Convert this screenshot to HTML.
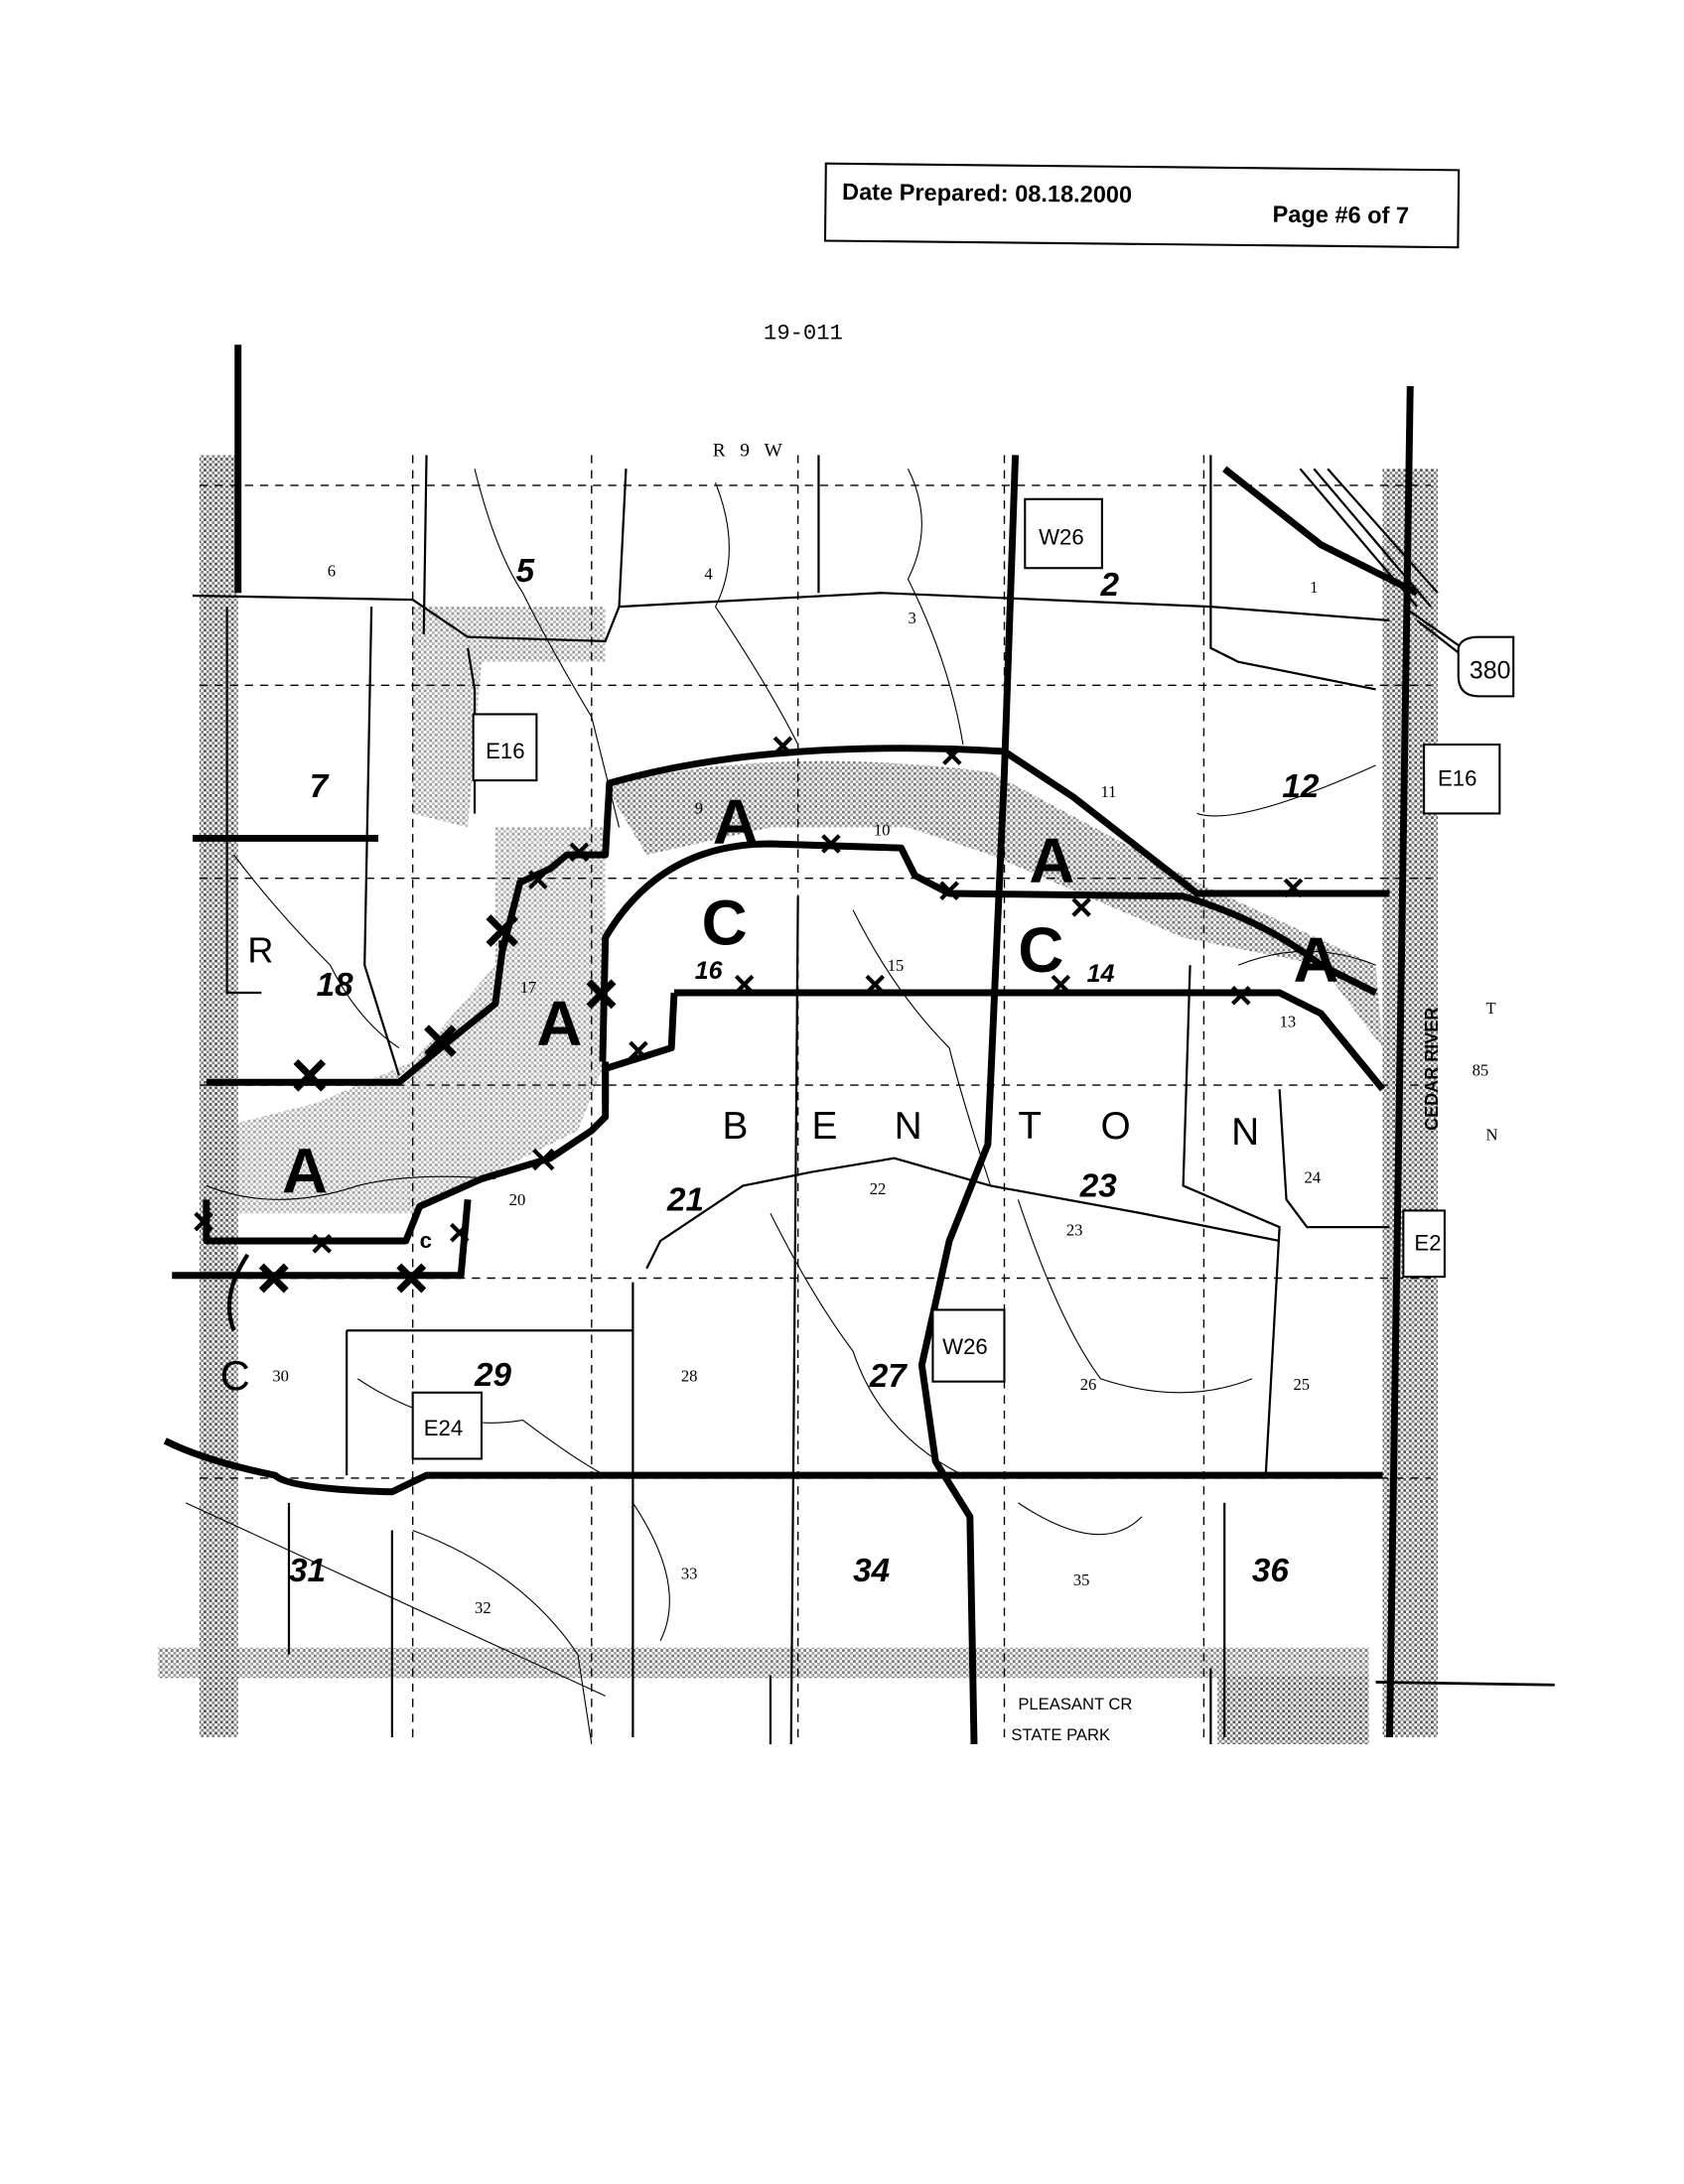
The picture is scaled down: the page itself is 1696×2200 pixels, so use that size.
<!DOCTYPE html>
<html><head><meta charset="utf-8"><style>
html,body{margin:0;padding:0;background:#fff;}
svg{display:block;}
</style></head><body>
<svg width="1696" height="2200" viewBox="0 0 1224 1584" preserveAspectRatio="none" xmlns="http://www.w3.org/2000/svg" font-family="Liberation Sans, sans-serif">
<defs>
<pattern id="dots" width="4" height="4" patternUnits="userSpaceOnUse">
<rect width="4" height="4" fill="#fff"/><rect width="2" height="2" fill="#555"/><rect x="2" y="2" width="2" height="2" fill="#888"/>
</pattern>
<clipPath id="c1"><rect x="1035" y="540" width="55" height="50"/></clipPath>
<clipPath id="c2"><rect x="1020" y="878" width="30" height="48"/></clipPath>
</defs>
<rect width="1224" height="1584" fill="#fff"/>
<g transform="rotate(0.6 830 150)">
<rect x="600" y="121" width="460" height="56" fill="#fff" stroke="#000" stroke-width="1.5"/>
<text x="612" y="147" font-size="17" font-weight="bold">Date Prepared: 08.18.2000</text>
<text x="925" y="160" font-size="17" font-weight="bold">Page #6 of 7</text>
</g>
<text x="555" y="246" font-family="Liberation Mono, monospace" font-size="16">19-011</text>
<text x="518" y="331" font-family="Liberation Serif, serif" font-size="14">R&#160;&#160;&#160;9&#160;&#160;&#160;W</text>

<rect x="145" y="330" width="28" height="930" fill="url(#dots)"/>
<rect x="1005" y="340" width="40" height="920" fill="url(#dots)"/>
<rect x="115" y="1195" width="880" height="22" fill="url(#dots)" opacity="0.8"/>
<rect x="885" y="1215" width="110" height="50" fill="url(#dots)"/>
<path d="M440 570 Q560 540 720 560 L870 640 L1000 700 L1005 760 L960 700 L860 680 L720 620 L660 600 L560 600 L470 620 Z" fill="url(#dots)" opacity="0.8"/>
<path d="M360 600 L440 600 L440 770 L420 820 L360 850 L300 880 L160 880 L150 820 L230 800 L300 770 L360 700 Z" fill="url(#dots)" opacity="0.55"/>
<path d="M300 440 L440 440 L440 480 L350 480 L340 600 L300 590 Z" fill="url(#dots)" opacity="0.6"/>

<g stroke="#000" stroke-width="1" stroke-dasharray="6,5" fill="none">
<line x1="145" y1="352" x2="1040" y2="352"/>
<line x1="145" y1="497" x2="1040" y2="497"/>
<line x1="145" y1="637" x2="1040" y2="637"/>
<line x1="145" y1="787" x2="1040" y2="787"/>
<line x1="145" y1="927" x2="1040" y2="927"/>
<line x1="145" y1="1072" x2="1040" y2="1072"/>
<line x1="300" y1="330" x2="300" y2="1260"/>
<line x1="430" y1="330" x2="430" y2="1260"/>
<line x1="580" y1="330" x2="580" y2="1260"/>
<line x1="730" y1="330" x2="730" y2="1260"/>
<line x1="875" y1="330" x2="875" y2="1260"/>
</g>
<g stroke="#000" stroke-width="1.6" fill="none">
<path d="M140 432 L300 435 L340 462 L440 465 L450 440 L640 430 L880 440 L1010 450"/>
<path d="M880 330 L880 470 L900 480 L1000 500"/>
<path d="M310 330 L308 460"/>
<path d="M455 340 L450 440"/>
<path d="M595 330 L595 430"/>
<path d="M165 440 L165 720 L190 720"/>
<path d="M270 440 L265 700 L290 780"/>
<path d="M340 470 L345 500 L345 590"/>
<path d="M580 650 L575 1265"/>
<path d="M865 700 L860 860 L930 890 L920 1070"/>
<path d="M930 790 L935 870 L950 890 L1010 890"/>
<path d="M470 920 L480 900 L540 860 L590 850 L650 840 L720 860 L830 880 L930 900"/>
<path d="M460 930 L460 1260"/>
<path d="M252 965 L460 965"/>
<path d="M252 965 L252 1070"/>
<path d="M285 1110 L285 1260"/>
<path d="M210 1090 L210 1200"/>
<path d="M890 1090 L890 1260"/>
<path d="M560 1215 L560 1265"/>
<path d="M880 1210 L880 1265"/>
</g>
<g stroke="#000" stroke-width="0.8" fill="none">
<path d="M345 340 Q360 400 380 430 Q400 470 430 520 L450 600"/>
<path d="M520 350 Q540 400 520 440 Q560 500 580 540"/>
<path d="M660 340 Q680 380 660 420 Q690 480 700 540"/>
<path d="M170 620 Q200 660 240 700 Q260 740 290 760"/>
<path d="M620 660 Q650 720 690 760 Q700 800 720 860"/>
<path d="M740 870 Q770 960 800 1000 Q860 1020 910 1000"/>
<path d="M560 880 Q590 940 620 980 Q640 1040 700 1070"/>
<path d="M260 1000 Q320 1040 380 1030 Q420 1060 440 1070"/>
<path d="M300 1110 Q380 1140 420 1200 L430 1265"/>
<path d="M460 1090 Q500 1150 480 1190"/>
<path d="M740 1090 Q800 1130 830 1100"/>
<path d="M870 590 Q900 600 1000 555"/>
<path d="M135 1090 L440 1230"/>
<path d="M900 700 Q950 680 1000 700"/>
<path d="M150 860 Q200 880 260 860 Q300 850 360 855"/>
</g>
<path d="M945 340 L1030 440 M955 340 L1040 440 M965 340 L1045 430" stroke="#000" stroke-width="1.6"/>
<path d="M1020 440 L1070 475 M1030 450 L1075 485" stroke="#000" stroke-width="1.6"/>

<g stroke="#000" stroke-width="5" fill="none" stroke-linejoin="round">
<line x1="173" y1="250" x2="173" y2="430"/>
<line x1="1025" y1="280" x2="1010" y2="1260"/>
<line x1="1000" y1="1220" x2="1130" y2="1222" stroke-width="2"/>
<path d="M738 330 L730 560 L718 830 L690 900 L670 990 L680 1060 L705 1100 L708 1265"/>
<path d="M890 340 L960 395 L1030 430"/>
<line x1="140" y1="608" x2="275" y2="608"/>
<path d="M150 785 L290 785 L330 752 L360 728 L365 690 L378 640 L400 630 L412 620 L440 620 L443 568 Q560 535 730 545 L780 578 L870 648 L1010 648"/>
<path d="M438 770 L440 680 Q480 612 560 612 L655 615 L665 635 L690 648 L860 650 Q920 668 960 700 L1000 720"/>
<path d="M440 770 L440 810 L430 820 L400 840 L350 855 L305 875 L295 900 L150 900 L150 870"/>
<path d="M490 720 L488 760 L440 775 L440 800"/>
<path d="M490 720 L930 720 L960 735 L1005 790"/>
<path d="M125 925 L335 925 L340 870"/>
<path d="M120 1045 Q150 1060 200 1070 Q210 1080 285 1082 L310 1070 L1005 1070"/>
<path d="M180 910 Q160 940 170 965" stroke-width="3"/>
</g>
<g stroke="#000" stroke-width="3" fill="none">
<path d="M563 535 l12 12 m0 -12 l-12 12"/>
<path d="M686 542 l12 12 m0 -12 l-12 12"/>
<path d="M598 606 l12 12 m0 -12 l-12 12"/>
<path d="M684 640 l12 12 m0 -12 l-12 12"/>
<path d="M780 652 l12 12 m0 -12 l-12 12"/>
<path d="M934 638 l12 12 m0 -12 l-12 12"/>
<path d="M535 708 l12 12 m0 -12 l-12 12"/>
<path d="M630 708 l12 12 m0 -12 l-12 12"/>
<path d="M765 708 l12 12 m0 -12 l-12 12"/>
<path d="M896 716 l12 12 m0 -12 l-12 12"/>
<path d="M458 756 l12 12 m0 -12 l-12 12"/>
<path d="M388 834 l14 14 m0 -14 l-14 14"/>
<path d="M415 612 l12 12 m0 -12 l-12 12"/>
<path d="M385 632 l12 12 m0 -12 l-12 12"/>
<path d="M142 880 l12 12 m0 -12 l-12 12"/>
<path d="M228 896 l12 12 m0 -12 l-12 12"/>
<path d="M328 888 l12 12 m0 -12 l-12 12"/>
</g>
<g stroke="#000" stroke-width="5" fill="none">
<path d="M355 665 l20 20 m0 -20 l-20 20 m10 -3 v6"/>
<path d="M310 745 l20 20 m0 -20 l-20 20"/>
<path d="M215 770 l20 20 m0 -20 l-20 20"/>
<path d="M428 712 l18 18 m0 -18 l-18 18"/>
<path d="M190 918 l18 18 m0 -18 l-18 18"/>
<path d="M290 918 l18 18 m0 -18 l-18 18"/>
</g>
<g font-family="Liberation Sans, sans-serif" font-weight="bold" font-size="46">
<text x="518" y="612">A</text>
<text x="748" y="640">A</text>
<text x="940" y="712">A</text>
<text x="390" y="758">A</text>
<text x="205" y="865">A</text>
<text x="510" y="685">C</text>
<text x="740" y="705">C</text>
</g>
<text x="160" y="1008" font-size="30">C</text>
<text x="305" y="905" font-size="16" font-weight="bold">c</text>
<g font-family="Liberation Sans, sans-serif" font-style="italic" font-weight="bold" font-size="24">
<text x="375" y="422">5</text>
<text x="800" y="432">2</text>
<text x="225" y="578">7</text>
<text x="932" y="578">12</text>
<text x="230" y="722">18</text>
<text x="505" y="710" font-size="18">16</text>
<text x="790" y="712" font-size="18">14</text>
<text x="485" y="878">21</text>
<text x="785" y="868">23</text>
<text x="345" y="1005">29</text>
<text x="632" y="1006">27</text>
<text x="210" y="1147">31</text>
<text x="620" y="1147">34</text>
<text x="910" y="1147">36</text>
</g>
<text x="180" y="698" font-size="26">R</text>
<g font-family="Liberation Serif, serif" font-size="12">
<text x="238" y="418">6</text><text x="512" y="420">4</text><text x="660" y="452">3</text><text x="952" y="430">1</text>
<text x="800" y="578">11</text><text x="635" y="606">10</text><text x="505" y="590">9</text>
<text x="378" y="720">17</text><text x="645" y="704">15</text><text x="930" y="745">13</text>
<text x="370" y="874">20</text><text x="632" y="866">22</text><text x="775" y="896">23</text><text x="948" y="858">24</text>
<text x="198" y="1002">30</text><text x="495" y="1002">28</text><text x="785" y="1008">26</text><text x="940" y="1008">25</text>
<text x="345" y="1170">32</text><text x="495" y="1145">33</text><text x="780" y="1150">35</text>
<text x="1080" y="735">T</text><text x="1070" y="780">85</text><text x="1080" y="827">N</text>
</g>
<text x="1040" y="815" font-size="13" font-weight="bold" transform="rotate(-90 1045 815)">CEDAR RIVER</text>
<text x="740" y="1240" font-size="12">PLEASANT CR</text>
<text x="735" y="1262" font-size="12">STATE PARK</text>
<g font-size="28" font-family="Liberation Sans, sans-serif">
<text x="525" y="826">B</text><text x="590" y="826">E</text><text x="650" y="826">N</text>
<text x="740" y="826">T</text><text x="800" y="826">O</text><text x="895" y="830">N</text>
</g>
<g fill="#fff" stroke="#000" stroke-width="1.5" font-size="16">
<rect x="745" y="362" width="56" height="50"/><text x="755" y="395" stroke="none" fill="#000">W26</text>
<rect x="678" y="950" width="52" height="52"/><text x="685" y="982" stroke="none" fill="#000">W26</text>
<rect x="344" y="518" width="46" height="48"/><text x="353" y="550" stroke="none" fill="#000">E16</text>
<rect x="300" y="1010" width="50" height="48"/><text x="308" y="1041" stroke="none" fill="#000">E24</text>
<rect x="1035" y="540" width="55" height="50"/><text x="1045" y="570" stroke="none" fill="#000" clip-path="url(#c1)">E16</text>
<rect x="1020" y="878" width="30" height="48"/><text x="1028" y="907" stroke="none" fill="#000" clip-path="url(#c2)">E2</text>
<path d="M1060 470 Q1062 462 1075 462 L1100 462 L1100 505 L1075 505 Q1060 505 1060 490 Z"/><text x="1068" y="492" stroke="none" fill="#000" font-size="18">380</text>
</g>
</svg>
</body></html>
